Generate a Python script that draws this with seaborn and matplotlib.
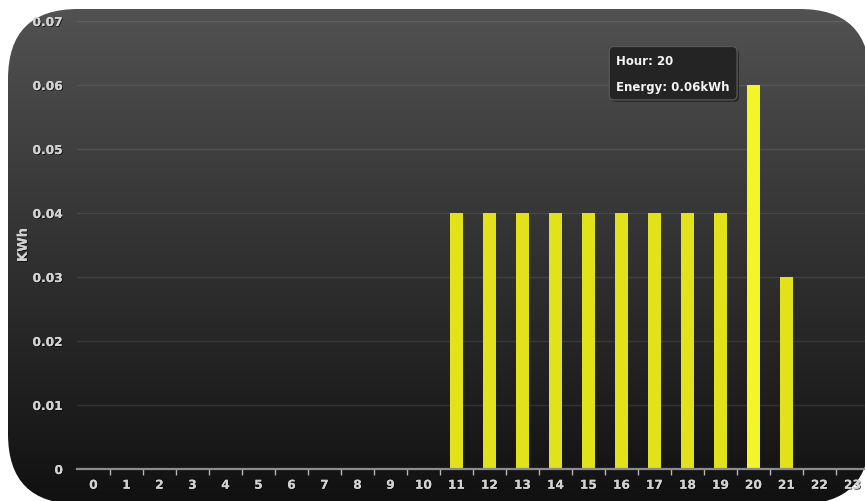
import numpy as np
import pandas as pd
import matplotlib
matplotlib.use("Agg")
import matplotlib.pyplot as plt
from matplotlib.patches import FancyBboxPatch
import matplotlib.patheffects as pe
import seaborn as sns

# Hourly energy use (kWh)
hours = list(range(24))
energy = [0, 0, 0, 0, 0, 0, 0, 0, 0, 0, 0,
          0.04, 0.04, 0.04, 0.04, 0.04, 0.04, 0.04, 0.04, 0.04,
          0.06, 0.03, 0, 0]
y_ticks = [0, 0.01, 0.02, 0.03, 0.04, 0.05, 0.06, 0.07]
y_tick_labels = ["0", "0.01", "0.02", "0.03", "0.04", "0.05", "0.06", "0.07"]
active_hour = 20

df = pd.DataFrame({"hour": [str(h) for h in hours], "energy": energy})

sns.set_theme(style="dark")
plt.rcParams["font.family"] = ["DejaVu Sans"]
tick_size = 8.8

W, H = 865, 502
fig = plt.figure(figsize=(W / 100, H / 100), dpi=100, facecolor="white")

# Rounded dark panel with a vertical gradient
bg = fig.add_axes([0, 0, 1, 1])
bg.set_xlim(0, W)
bg.set_ylim(H, 0)
bg.axis("off")
panel = FancyBboxPatch((8, 10), 862, 495,
                       boxstyle="round,pad=0,rounding_size=70",
                       facecolor="none", edgecolor="none")
bg.add_patch(panel)
grad = np.linspace(0, 1, 256)[:, None]
top_c = np.array([0.32, 0.32, 0.32])
bot_c = np.array([0.065, 0.065, 0.065])
img = top_c[None, None, :] * (1 - grad[:, :, None]) + bot_c[None, None, :] * grad[:, :, None]
im = bg.imshow(img, extent=(8, 870, 505, 10), aspect="auto", interpolation="bilinear")
im.set_clip_path(panel)

# Main chart area
left, right = 77 / W, 869 / W
bottom, top = 1 - 470 / H, 1 - 22 / H
ax = fig.add_axes([left, bottom, right - left, top - bottom])
ax.patch.set_alpha(0)

bar_colors = ["#f4f42a" if h == active_hour else "#e2e21a" for h in hours]
sns.barplot(data=df, x="hour", y="energy", hue="hour", palette=bar_colors,
            legend=False, width=0.42, saturation=1, linewidth=0,
            ax=ax, zorder=3)

ax.set_xlim(-0.5, 23.5)
ax.set_ylim(0, 0.07)
ax.set_yticks(y_ticks)
ax.set_yticklabels(y_tick_labels)
ax.grid(axis="y", color="white", alpha=0.09, linewidth=1, zorder=0)
ax.grid(axis="x", visible=False)

for s in ["top", "right", "left"]:
    ax.spines[s].set_visible(False)
ax.spines["bottom"].set_color("#8c8c8c")
ax.spines["bottom"].set_linewidth(1.6)
ax.spines["bottom"].set_zorder(4)

shadow = [pe.withSimplePatchShadow(offset=(0.6, -0.6), shadow_rgbFace="black", alpha=0.8), pe.Normal()]

ax.tick_params(axis="x", which="major", length=0, pad=7, labelsize=tick_size, labelcolor="#d2d2d2")
ax.tick_params(axis="y", which="major", length=0, pad=10, labelsize=tick_size, labelcolor="#d2d2d2")
ax.set_xticks(np.arange(0.5, 23, 1), minor=True)
ax.tick_params(axis="x", which="minor", bottom=True, length=4, width=1,
               color="#b5b5b5", direction="out")
for lab in ax.get_xticklabels() + ax.get_yticklabels():
    lab.set_fontweight("bold")
    lab.set_path_effects(shadow)

ax.set_xlabel("")
ax.set_ylabel("KWh", fontsize=9.5, fontweight="bold", color="#d2d2d2", labelpad=2)
ax.yaxis.label.set_path_effects(shadow)

# Hover tooltip for the highlighted hour
val = energy[hours.index(active_hour)]
tip = ax.annotate(f"Hour: {active_hour}\nEnergy: {val:.2f}kWh",
                  xy=(hours.index(active_hour), val), xytext=(-17, 8.5),
                  textcoords="offset points", ha="right", va="center",
                  multialignment="left",
                  fontsize=8.5, fontweight="bold", color="#f4f4f4",
                  linespacing=2.3, zorder=6,
                  bbox=dict(boxstyle="round,pad=0.6,rounding_size=0.4",
                            facecolor="#242424", edgecolor="#5a5a5a",
                            linewidth=0.8, alpha=0.92))
tip.get_bbox_patch().set_path_effects([pe.withSimplePatchShadow(offset=(1.5, -1.5), alpha=0.5), pe.Normal()])

fig.savefig("out.png", dpi=100, facecolor="white")
